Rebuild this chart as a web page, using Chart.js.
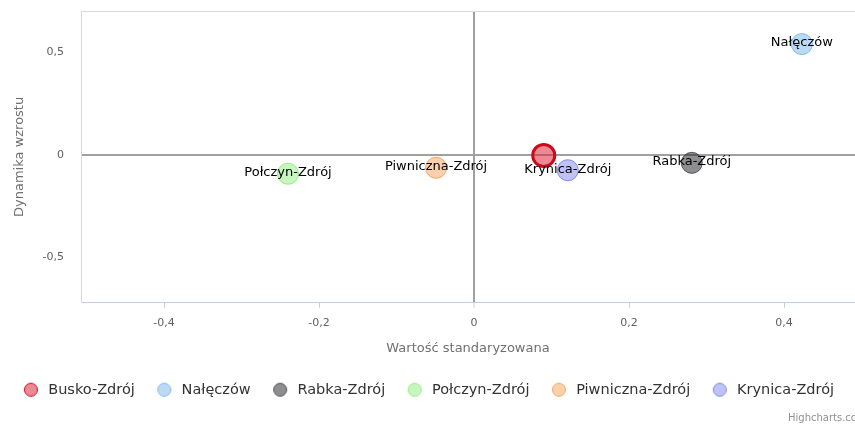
<!DOCTYPE html>
<html>
<head>
<meta charset="utf-8">
<script src="https://cdn.jsdelivr.net/npm/chart.js@4/dist/chart.umd.min.js"></script>
<style>
  html, body { margin: 0; padding: 0; background: #fff; }
  canvas { display: block; }
</style>
</head>
<body>
<canvas id="c" width="855" height="424"></canvas>
<script>
// ---- data ----
const seriesNames = ['Busko-Zdrój', 'Nałęczów', 'Rabka-Zdrój', 'Połczyn-Zdrój', 'Piwniczna-Zdrój', 'Krynica-Zdrój'];
const xValues = [0.090, 0.423, 0.281, -0.240, -0.049, 0.121];
const yValues = [-0.003, 0.539, -0.039, -0.092, -0.063, -0.075];
const labelVisible = [false, true, true, true, true, true];
const xTicks = [-0.4, -0.2, 0, 0.2, 0.4];
const xTickLabels = ['-0,4', '-0,2', '0', '0,2', '0,4'];
const yTicks = [-0.5, 0, 0.5];
const yTickLabels = ['-0,5', '0', '0,5'];
const xTitle = 'Wartość standaryzowana';
const yTitle = 'Dynamika wzrostu';
const creditText = 'Highcharts.com';

// ---- styles ----
const fills = ['rgba(220,40,60,0.55)', 'rgba(124,181,236,0.5)', 'rgba(30,30,35,0.5)',
               'rgba(144,237,125,0.5)', 'rgba(247,163,92,0.5)', 'rgba(128,133,233,0.5)'];
const borders = ['#cc0a1e', 'rgba(124,181,236,0.95)', 'rgba(60,60,65,0.8)',
                 'rgba(144,237,125,0.95)', 'rgba(247,163,92,0.95)', 'rgba(128,133,233,0.95)'];

const datasets = seriesNames.map((name, i) => ({
  label: name,
  data: [{ x: xValues[i], y: yValues[i] }],
  backgroundColor: fills[i],
  borderColor: borders[i],
  pointRadius: i === 0 ? 11 : 10.5,
  pointBorderWidth: i === 0 ? 3 : 1,
  pointStyle: 'circle',
  showLine: false
}));

const FONT = 'DejaVu Sans';

// legend marker images (circle with fill + thin border)
function legendMarker(fill, border) {
  const cv = document.createElement('canvas');
  cv.width = 16; cv.height = 16;
  const g = cv.getContext('2d');
  g.beginPath();
  g.arc(8, 8, 6.5, 0, Math.PI * 2);
  g.fillStyle = fill;
  g.fill();
  g.lineWidth = 1;
  g.strokeStyle = border;
  g.stroke();
  return cv;
}
const markers = seriesNames.map((n, i) => legendMarker(fills[i], borders[i]));

const extras = {
  id: 'extras',
  afterDatasetsDraw(chart) {
    const ctx = chart.ctx;
    ctx.save();
    ctx.font = '13px "' + FONT + '"';
    ctx.fillStyle = '#000';
    ctx.textAlign = 'center';
    ctx.textBaseline = 'middle';
    chart.data.datasets.forEach((ds, i) => {
      if (!labelVisible[i]) return;
      const el = chart.getDatasetMeta(i).data[0];
      ctx.fillText(seriesNames[i], el.x, el.y - 1);
    });
    ctx.restore();
  },
  beforeDatasetsDraw(chart) {
    const { ctx, chartArea } = chart;
    ctx.save();
    ctx.strokeStyle = '#d4dae2';
    ctx.lineWidth = 1;
    ctx.beginPath();
    ctx.moveTo(chartArea.left, chartArea.top + 0.5);
    ctx.lineTo(chartArea.right, chartArea.top + 0.5);
    ctx.stroke();
    ctx.restore();
  },
  afterDraw(chart) {
    const ctx = chart.ctx;
    ctx.save();
    ctx.font = '10px "' + FONT + '"';
    ctx.fillStyle = '#909090';
    ctx.textAlign = 'left';
    ctx.textBaseline = 'alphabetic';
    ctx.fillText(creditText, 788, 421);
    ctx.restore();
  }
};

const zeroColor = (c) => (c.tick && c.tick.value === 0) ? '#a0a0a0' : 'rgba(0,0,0,0)';
const zeroWidth = (c) => (c.tick && c.tick.value === 0) ? 2 : 1;

new Chart(document.getElementById('c'), {
  type: 'scatter',
  data: { datasets },
  options: {
    responsive: false,
    animation: false,
    events: [],
    layout: { autoPadding: false, padding: { top: 11, right: 0, bottom: 17, left: 0 } },
    plugins: {
      tooltip: { enabled: false },
      legend: {
        position: 'bottom',
        labels: {
          usePointStyle: true,
          pointStyleWidth: 20,
          boxHeight: 10,
          padding: 19.5,
          color: '#333333',
          font: { family: FONT, size: 14.5 },
          generateLabels(chart) {
            const items = Chart.defaults.plugins.legend.labels.generateLabels(chart);
            items.forEach((it) => { it.lineWidth = 1; it.pointStyle = markers[it.datasetIndex]; });
            return items;
          }
        }
      }
    },
    scales: {
      x: {
        type: 'linear',
        min: -0.5071,
        max: 0.4916,
        afterBuildTicks(scale) { scale.ticks = xTicks.map(v => ({ value: v })); },
        afterFit(scale) { scale.height = 60.25; scale.paddingLeft = 0; scale.paddingRight = 0; scale.paddingTop = 0; scale.paddingBottom = 0; },
        ticks: {
          color: '#606060',
          font: { family: FONT, size: 11 },
          padding: 9,
          callback(value) { const k = xTicks.indexOf(value); return k >= 0 ? xTickLabels[k] : ''; }
        },
        grid: {
          color: zeroColor,
          lineWidth: zeroWidth,
          tickColor: '#c0d0e0',
          tickLength: 5,
          tickWidth: 1
        },
        border: { display: true, color: '#c0d0e0', width: 1 },
        title: {
          display: true,
          text: xTitle,
          color: '#707070',
          font: { family: FONT, size: 13 },
          padding: { top: 0, bottom: 6.5 }
        }
      },
      y: {
        type: 'linear',
        min: -0.72,
        max: 0.70,
        afterBuildTicks(scale) { scale.ticks = yTicks.map(v => ({ value: v })); },
        afterFit(scale) { scale.width = 81; scale.paddingLeft = 0; scale.paddingRight = 0; scale.paddingTop = 0; scale.paddingBottom = 0; },
        ticks: {
          color: '#606060',
          font: { family: FONT, size: 11 },
          padding: 17,
          callback(value) { const k = yTicks.indexOf(value); return k >= 0 ? yTickLabels[k] : ''; }
        },
        grid: {
          color: zeroColor,
          lineWidth: zeroWidth,
          drawTicks: false
        },
        border: { display: true, color: '#d4dae2', width: 1 },
        title: {
          display: true,
          text: yTitle,
          color: '#707070',
          font: { family: FONT, size: 13 },
          padding: { top: 12, bottom: 0 }
        }
      }
    }
  },
  plugins: [extras]
});
</script>
</body>
</html>
